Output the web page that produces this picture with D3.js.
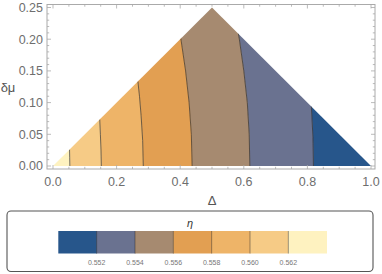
<!DOCTYPE html>
<html><head><meta charset="utf-8">
<script src="https://cdn.jsdelivr.net/npm/d3@7"></script>
<style>
body{margin:0;background:#fff;}
svg{display:block;font-family:"Liberation Sans",Arial,sans-serif;}
</style></head>
<body><svg id="c" width="382" height="274"></svg>
<script>
// contour levels of eta
const levels = [0.552, 0.554, 0.556, 0.558, 0.560, 0.562];
// band colours, from eta < 0.552 up to eta > 0.562
const bandColors = ["#27568b", "#6a7290", "#a68a70", "#e29f52", "#eeb468", "#f6cb86", "#fef2c0"];
// contour lines [Delta, deltaMu] (bottom to triangle edge)
const line552 = [[0.819,0],[0.8175,0.045],[0.8125,0.0937]];
const line554 = [[0.619,0],[0.617,0.05],[0.611,0.1],[0.600,0.15],[0.586,0.2],[0.583,0.2085]];
const line556 = [[0.4375,0],[0.435,0.05],[0.428,0.1],[0.417,0.15],[0.402,0.201]];
const line558 = [[0.284,0],[0.282,0.04],[0.277,0.08],[0.272,0.11],[0.267,0.1335]];
const line560 = [[0.152,0],[0.151,0.025],[0.149,0.05],[0.147,0.0735]];
const line562 = [[0.053,0],[0.0525,0.013],[0.052,0.026]];
const contourLines = [line552, line554, line556, line558, line560, line562];
// domain triangle
const triangle = [[0,0],[0.5,0.25],[1,0]];
// ticks
const xTicks = [0, 0.2, 0.4, 0.6, 0.8, 1.0];
const yTicks = [0, 0.05, 0.10, 0.15, 0.20, 0.25];
const legendTickLabels = ["0.552","0.554","0.556","0.558","0.560","0.562"];

const svg = d3.select("#c");
const x = d3.scaleLinear().domain([0,1]).range([53,371]);
const y = d3.scaleLinear().domain([0,0.25]).range([166,7.5]);
const frame = {x0:47, x1:375, y0:4.5, y1:169};

const defs = svg.append("defs");
defs.append("clipPath").attr("id","tri").append("path")
  .attr("d", d3.line().x(d=>x(d[0])).y(d=>y(d[1]))(triangle) + "Z");

const g = svg.append("g").attr("clip-path","url(#tri)");
const bounds = [[[1.2,0],[1.2,0.3]]].concat(contourLines).concat([[[-0.2,0],[-0.2,0.3]]]);
const lineGen = d3.line().x(d=>x(d[0])).y(d=>y(d[1]));
for (let i = 0; i < bandColors.length; i++) {
  const right = bounds[i], left = bounds[i+1];
  const lTop = left[left.length-1], rTop = right[right.length-1];
  const pts = left.slice()
    .concat([[lTop[0], 0.4], [rTop[0], 0.4]])
    .concat(right.slice().reverse());
  pts.unshift([left[0][0], -0.05]);
  pts.push([right[0][0], -0.05]);
  g.append("path").attr("d", lineGen(pts) + "Z")
    .attr("fill", bandColors[i]).attr("stroke", bandColors[i]).attr("stroke-width",0.5);
}
contourLines.forEach(l => {
  g.append("path").attr("d", lineGen(l)).attr("fill","none")
    .attr("stroke","#2a2a2a").attr("stroke-opacity",0.65).attr("stroke-width",1);
});

// frame
const fc = "#aaaaaa";
svg.append("rect").attr("x",frame.x0).attr("y",frame.y0)
  .attr("width",frame.x1-frame.x0).attr("height",frame.y1-frame.y0)
  .attr("fill","none").attr("stroke",fc).attr("stroke-width",1);
const xMinor = d3.range(0, 1.0001, 0.05);
const yMinor = d3.range(0, 0.2501, 0.01);
const tk = svg.append("g").attr("stroke",fc).attr("stroke-width",0.8);
xMinor.forEach(v => {
  const major = xTicks.some(t => Math.abs(t-v) < 1e-6);
  const L = major ? 4 : 2.2;
  tk.append("line").attr("x1",x(v)).attr("x2",x(v)).attr("y1",frame.y1).attr("y2",frame.y1-L);
  tk.append("line").attr("x1",x(v)).attr("x2",x(v)).attr("y1",frame.y0).attr("y2",frame.y0+L);
});
yMinor.forEach(v => {
  const major = yTicks.some(t => Math.abs(t-v) < 1e-6);
  const L = major ? 4 : 2.2;
  tk.append("line").attr("y1",y(v)).attr("y2",y(v)).attr("x1",frame.x0).attr("x2",frame.x0+L);
  tk.append("line").attr("y1",y(v)).attr("y2",y(v)).attr("x1",frame.x1).attr("x2",frame.x1-L);
});
const tc = "#6e6e6e";
svg.append("g").selectAll("text").data(xTicks).join("text")
  .attr("x", d=>x(d)).attr("y", 186).attr("text-anchor","middle")
  .attr("font-size",12.5).attr("fill",tc).text(d=>d3.format(".1f")(d));
svg.append("g").selectAll("text").data(yTicks).join("text")
  .attr("x", 43).attr("y", d=>y(d)+4.3).attr("text-anchor","end")
  .attr("font-size",12.5).attr("fill",tc).text(d=>d3.format(".2f")(d));
svg.append("text").attr("x",212).attr("y",205).attr("text-anchor","middle")
  .attr("font-size",13).attr("fill","#555").text("Δ");
svg.append("text").attr("x",8).attr("y",92).attr("text-anchor","middle")
  .attr("font-size",13).attr("fill","#555").text("δμ");

// legend
svg.append("rect").attr("x",7).attr("y",211).attr("width",366).attr("height",60.5)
  .attr("rx",4).attr("fill","#fff").attr("stroke","#555").attr("stroke-width",1.1);
svg.append("text").attr("x",190).attr("y",227).attr("text-anchor","middle")
  .attr("font-size",11).attr("font-style","italic").attr("fill","#333").text("η");
const lx = d3.scaleBand().domain(d3.range(bandColors.length)).range([58.3,326.7]).paddingInner(0);
svg.append("g").selectAll("rect").data(bandColors).join("rect")
  .attr("x",(d,i)=>lx(i)).attr("y",231).attr("width",lx.bandwidth()+0.3).attr("height",22.5)
  .attr("fill",d=>d);
svg.append("g").selectAll("line").data(levels).join("line")
  .attr("x1",(d,i)=>lx(i+1)).attr("x2",(d,i)=>lx(i+1)).attr("y1",231).attr("y2",253.5)
  .attr("stroke","#2a2a2a").attr("stroke-opacity",0.45).attr("stroke-width",1);
svg.append("g").selectAll("text").data(legendTickLabels).join("text")
  .attr("x",(d,i)=>lx(i+1)).attr("y",265).attr("text-anchor","middle")
  .attr("font-size",7).attr("fill","#777").text(d=>d);
</script></body></html>
